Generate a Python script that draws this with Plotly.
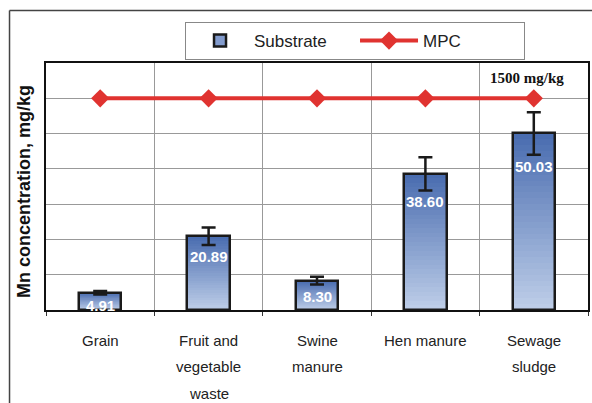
import plotly.graph_objects as go

categories = ["Grain", "Fruit and vegetable waste", "Swine manure", "Hen manure", "Sewage sludge"]
label_lines = [["Grain"], ["Fruit and", "vegetable", "waste"], ["Swine", "manure"], ["Hen manure"], ["Sewage", "sludge"]]
substrate = [4.91, 20.89, 8.30, 38.60, 50.03]
errors = [0.5, 2.5, 1.1, 4.7, 6.0]
mpc = [60, 60, 60, 60, 60]
mpc_label = "1500 mg/kg"

top_rgb = (74, 109, 176)
bot_rgb = (189, 205, 232)
N = 30
BW = 0.39

fig = go.Figure()

# gradient bands (style only): each band is a fraction of the bar height
for k in range(N):
    f = 1 - k / N
    t = k / (N - 1)
    c = tuple(round(top_rgb[i] + (bot_rgb[i] - top_rgb[i]) * t) for i in range(3))
    fig.add_trace(go.Bar(
        x=categories, y=[v * f for v in substrate], width=BW,
        marker=dict(color="rgb(%d,%d,%d)" % c, line=dict(width=0)),
        showlegend=False, hoverinfo="skip"))

# outline + error bars
fig.add_trace(go.Bar(
    x=categories, y=substrate, width=BW, name="Substrate",
    marker=dict(color="rgba(0,0,0,0)", line=dict(color="#1a1a1a", width=2.5)),
    error_y=dict(type="data", array=errors, color="#1a1a1a", thickness=2.5, width=7),
    showlegend=False))

# legend-only entry for Substrate
fig.add_trace(go.Bar(
    x=[categories[0]], y=[None], name="Substrate",
    marker=dict(color="rgb(130,155,205)", line=dict(color="#1a1a1a", width=2.5)),
    showlegend=True))

fig.add_trace(go.Scatter(
    x=categories, y=mpc, name="MPC", mode="lines+markers",
    line=dict(color="#E03330", width=4),
    marker=dict(symbol="diamond", size=14, color="#E03330")))

annotations = []
for cat, v, e in zip(categories, substrate, errors):
    annotations.append(dict(
        x=cat, y=v - e, xref="x", yref="y", text="%.2f" % v, showarrow=False,
        yanchor="top", yshift=-1,
        font=dict(family="Arial, Liberation Sans", size=15, color="white", weight="bold")))

for cat, lines in zip(categories, label_lines):
    for i, ln in enumerate(lines):
        annotations.append(dict(
            x=cat, y=0, xref="x", yref="y", text=ln, showarrow=False,
            yanchor="middle", yshift=-30 - 26.5 * i,
            font=dict(family="Arial, Liberation Sans", size=15, color="#222")))

annotations.append(dict(
    x=categories[-1], y=mpc[-1], xref="x", yref="y", text=mpc_label, showarrow=False,
    yanchor="middle", yshift=20, xshift=-7,
    font=dict(family="Times New Roman, Liberation Serif", size=15, color="#111", weight="bold")))

annotations.append(dict(
    x=-0.0406, y=0.482, xref="paper", yref="paper", text="Mn concentration, mg/kg",
    showarrow=False, textangle=-90, xanchor="center", yanchor="middle",
    font=dict(family="Arial, Liberation Sans", size=18, color="#111", weight="bold")))

fig.update_layout(
    width=592, height=403,
    margin=dict(l=46, r=4, t=63, b=93, autoexpand=False),
    paper_bgcolor="white", plot_bgcolor="white",
    barmode="overlay", bargap=0,
    showlegend=True,
    legend=dict(orientation="h", x=0.2565, xanchor="left", y=1.166, yanchor="top",
                bordercolor="#888", borderwidth=1, bgcolor="white",
                font=dict(family="Arial, Liberation Sans", size=17, color="#222"),
                itemwidth=58, entrywidth=96, entrywidthmode="pixels"),
    xaxis=dict(type="category", showticklabels=False, tickson="boundaries",
               ticks="outside", ticklen=4, tickcolor="#333",
               showgrid=True, gridcolor="#999", gridwidth=1,
               showline=True, linecolor="#111", linewidth=2, mirror=True),
    yaxis=dict(range=[0, 70], dtick=10, showticklabels=False, ticks="",
               showgrid=True, gridcolor="#999", gridwidth=1, zeroline=False,
               showline=True, linecolor="#111", linewidth=2, mirror=True),
    annotations=annotations,
    shapes=[
        dict(type="line", xref="paper", yref="paper", x0=-0.0673, x1=-0.0673, y0=1.2126, y1=-0.4,
             line=dict(color="#444", width=1.5)),
        dict(type="line", xref="paper", yref="paper", x0=-0.0673, x1=1.02, y0=1.2126, y1=1.2126,
             line=dict(color="#444", width=1.5)),
    ],
)

fig.write_html("out.html", config={"displayModeBar": False},
               post_script="document.body.style.margin='0';")
